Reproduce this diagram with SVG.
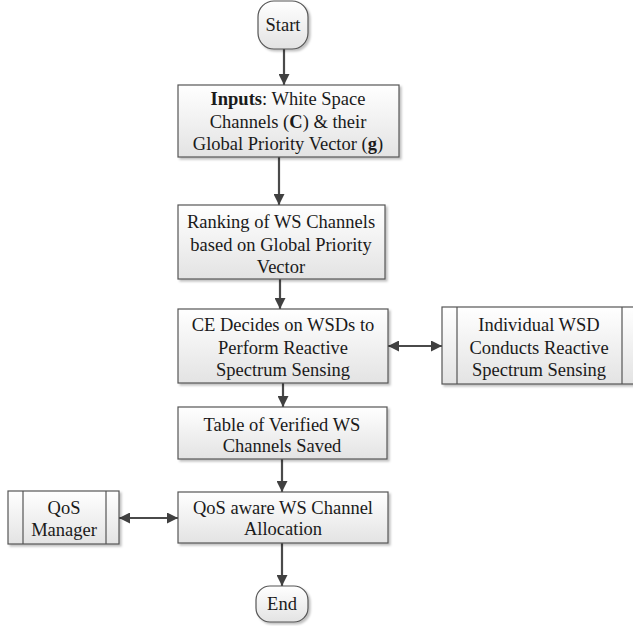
<svg xmlns="http://www.w3.org/2000/svg" width="633" height="626" viewBox="0 0 633 626">
<defs>
<linearGradient id="g" x1="0" y1="0" x2="0" y2="1">
<stop offset="0" stop-color="#ffffff"/>
<stop offset="1" stop-color="#e3e3e3"/>
</linearGradient>
<filter id="sh" x="-10%" y="-10%" width="120%" height="130%">
<feDropShadow dx="2" dy="2" stdDeviation="1.2" flood-color="#000" flood-opacity="0.25"/>
</filter>
<marker id="ah" viewBox="0 0 10 10" refX="10" refY="5" markerWidth="5" markerHeight="5" orient="auto-start-reverse" markerUnits="strokeWidth">
<path d="M0,0 L10,5 L0,10 Z" fill="#404040"/>
</marker>
</defs>
<style>
.box{fill:url(#g);stroke:#555555;stroke-width:1.2;filter:url(#sh)}
.ln{fill:none;stroke:#555555;stroke-width:1.2}
.t{font-family:"Liberation Serif","Times New Roman",serif;font-size:18.5px;fill:#1a1a1a;text-anchor:middle}
.c{fill:none;stroke:#4a4a4a;stroke-width:2.2}
</style>
<rect width="633" height="626" fill="#ffffff"/>
<g id="connectors">
<line class="c" x1="284" y1="49" x2="284" y2="85" marker-end="url(#ah)"/>
<line class="c" x1="279" y1="157" x2="279" y2="205" marker-end="url(#ah)"/>
<line class="c" x1="280" y1="279" x2="280" y2="309" marker-end="url(#ah)"/>
<line class="c" x1="283" y1="383" x2="283" y2="407" marker-end="url(#ah)"/>
<line class="c" x1="282" y1="459" x2="282" y2="492" marker-end="url(#ah)"/>
<line class="c" x1="282" y1="543" x2="282" y2="586" marker-end="url(#ah)"/>
<line class="c" x1="388" y1="346" x2="442" y2="346" marker-start="url(#ah)" marker-end="url(#ah)"/>
<line class="c" x1="119" y1="518" x2="178" y2="518" marker-start="url(#ah)" marker-end="url(#ah)"/>
</g>
<g id="start">
<rect class="box" x="258" y="1" width="50" height="48" rx="16" ry="16"/>
<text class="t" x="283" y="31">Start</text>
</g>
<g id="inputs">
<rect class="box" x="178" y="85" width="221" height="72"/>
<text class="t" x="288" y="105"><tspan font-weight="bold">Inputs</tspan>: White Space</text>
<text class="t" x="288" y="128">Channels (<tspan font-weight="bold">C</tspan>) &amp; their</text>
<text class="t" x="288" y="150">Global Priority Vector (<tspan font-weight="bold">g</tspan>)</text>
</g>
<g id="ranking">
<rect class="box" x="178" y="205" width="207" height="74"/>
<text class="t" x="281" y="228">Ranking of WS Channels</text>
<text class="t" x="281" y="251">based on Global Priority</text>
<text class="t" x="281" y="273">Vector</text>
</g>
<g id="ce">
<rect class="box" x="178" y="309" width="210" height="74"/>
<text class="t" x="283" y="331">CE Decides on WSDs to</text>
<text class="t" x="283" y="354">Perform Reactive</text>
<text class="t" x="283" y="376">Spectrum Sensing</text>
</g>
<g id="individual">
<rect class="box" x="442" y="307" width="195" height="77"/>
<line class="ln" x1="457" y1="307" x2="457" y2="384"/>
<line class="ln" x1="622" y1="307" x2="622" y2="384"/>
<text class="t" x="539" y="331">Individual WSD</text>
<text class="t" x="539" y="354">Conducts Reactive</text>
<text class="t" x="539" y="376">Spectrum Sensing</text>
</g>
<g id="table">
<rect class="box" x="178" y="407" width="209" height="52"/>
<text class="t" x="282" y="431">Table of Verified WS</text>
<text class="t" x="282" y="452">Channels Saved</text>
</g>
<g id="qos-alloc">
<rect class="box" x="178" y="492" width="210" height="51"/>
<text class="t" x="283" y="514">QoS aware WS Channel</text>
<text class="t" x="283" y="535">Allocation</text>
</g>
<g id="qos-manager">
<rect class="box" x="8" y="491" width="111" height="53"/>
<line class="ln" x1="23" y1="491" x2="23" y2="544"/>
<line class="ln" x1="106" y1="491" x2="106" y2="544"/>
<text class="t" x="64" y="514">QoS</text>
<text class="t" x="64" y="536">Manager</text>
</g>
<g id="end">
<rect class="box" x="256" y="586" width="52" height="36" rx="14" ry="14"/>
<text class="t" x="282" y="610">End</text>
</g>
</svg>
